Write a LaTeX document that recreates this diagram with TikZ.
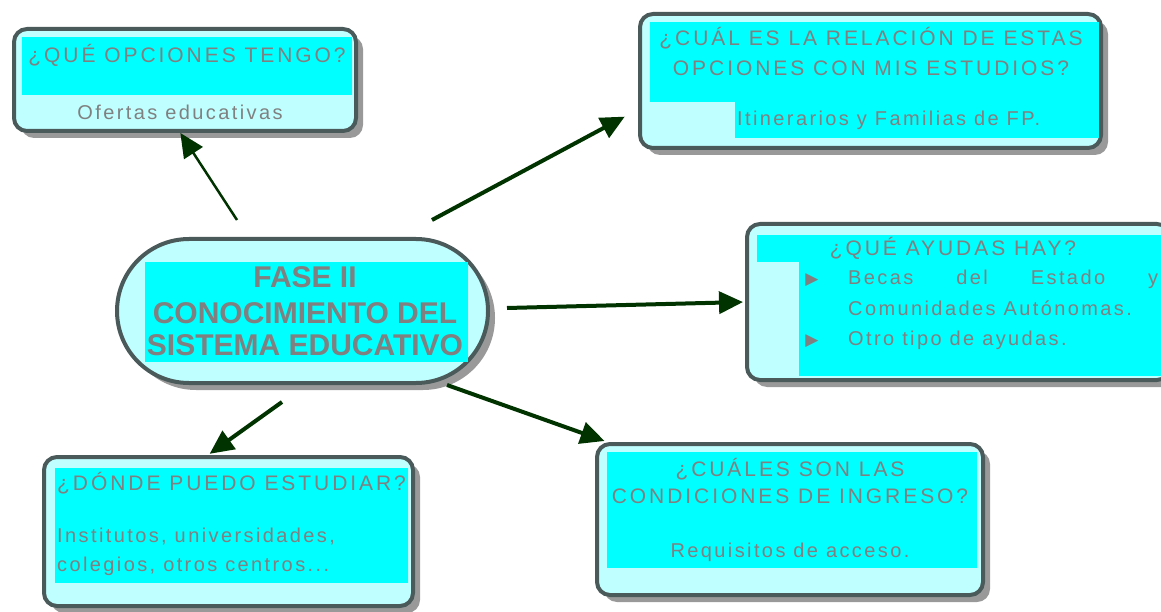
\documentclass[tikz,border=0pt]{standalone}
\usepackage{fontspec}
\setmainfont{Liberation Sans}
\newfontfamily\boxfont[LetterSpace=12]{Liberation Sans}
\newfontfamily\capsfont[LetterSpace=14]{Liberation Sans}
\newfontfamily\symfont{DejaVu Sans}
\usetikzlibrary{arrows.meta,shadows}
\definecolor{lightcyan}{HTML}{C0FFFF}
\definecolor{brightcyan}{HTML}{00FFFF}
\definecolor{edgegray}{HTML}{4A5A5A}
\definecolor{textgray}{HTML}{808080}
\definecolor{arrowgreen}{HTML}{003300}
\begin{document}
\begin{tikzpicture}[x=1pt,y=-1pt]
  \tikzstyle{every node}=[inner sep=0pt,text=textgray]
  \tikzstyle{box}=[draw=edgegray,line width=4pt,fill=lightcyan,rounded corners=13pt,
    general shadow={shadow xshift=7pt,shadow yshift=-7pt,fill=black!40}]
  \tikzstyle{txt}=[font=\boxfont\fontsize{20}{24}\selectfont]
  \tikzstyle{caps}=[font=\capsfont\fontsize{21}{24}\selectfont]
  \tikzstyle{bullet}=[font=\symfont\fontsize{17}{18}\selectfont]
  \tikzstyle{fasetxt}=[font=\bfseries\fontsize{30}{34}\selectfont]
  \tikzstyle{link}=[draw=arrowgreen,line width=4pt,-{Triangle[length=24pt,width=22pt]}]
  \useasboundingbox (0,0) rectangle (1161,612);

  % boxes
  \node[box,minimum width=342pt,minimum height=102pt] (opciones) at (185,80) {};
  \node[box,minimum width=461pt,minimum height=134pt] (relacion) at (870.5,81) {};
  \node[box,minimum width=423pt,minimum height=156pt] (ayudas) at (958.5,302) {};
  \node[box,rounded corners=72pt,minimum width=371pt,minimum height=144pt] (fase) at (302.5,311) {};
  \node[box,minimum width=369pt,minimum height=149pt] (donde) at (228.5,531.5) {};
  \node[box,minimum width=386pt,minimum height=151pt] (condiciones) at (790,519.5) {};

  % cyan fields
  \fill[brightcyan] (22,37) rectangle (352,95);
  \fill[brightcyan] (650,22) rectangle (1099,138);
  \fill[lightcyan] (650,102) rectangle (735,138);
  \fill[brightcyan] (757,235) rectangle (1161,262);
  \fill[brightcyan] (799,262) rectangle (1161,376);
  \fill[brightcyan] (145,262) rectangle (468,362);
  \fill[brightcyan] (55,468) rectangle (408,583);
  \fill[brightcyan] (607,452) rectangle (977,568);

  % texts
  \node[caps] (t11) at (187,55) {¿QUÉ OPCIONES TENGO?};
  \node[txt] (t12) at (180,112) {Ofertas educativas};
  \node[caps] (t21) at (871,38) {¿CUÁL ES LA RELACIÓN DE ESTAS};
  \node[caps] (t22) at (871,68) {OPCIONES CON MIS ESTUDIOS?};
  \node[txt,anchor=west] (t23) at (737,120) {Itinerarios y Familias de FP.};
  \node[caps] (t31) at (953,248) {¿QUÉ AYUDAS HAY?};
  \node[bullet] (b1) at (812,280) {▶};
  \node[txt,anchor=west] (t32) at (848,279) {\makebox[310pt][s]{Becas del Estado y}};
  \node[txt,anchor=west] (t33) at (848,308) {Comunidades Autónomas.};
  \node[bullet] (b2) at (812,341) {▶};
  \node[txt,anchor=west] (t34) at (848,340) {Otro tipo de ayudas.};
  \node[fasetxt] (t41) at (305,277) {FASE II};
  \node[fasetxt] (t42) at (305,313) {CONOCIMIENTO DEL};
  \node[fasetxt] (t43) at (305,345) {SISTEMA EDUCATIVO};
  \node[caps,anchor=west] (t51) at (57,483) {¿DÓNDE PUEDO ESTUDIAR?};
  \node[txt,anchor=west] (t52) at (57,537) {Institutos, universidades,};
  \node[txt,anchor=west] (t53) at (57,566) {colegios, otros centros...};
  \node[caps] (t61) at (790,469) {¿CUÁLES SON LAS};
  \node[caps] (t62) at (790,496) {CONDICIONES DE INGRESO?};
  \node[txt] (t63) at (790,552) {Requisitos de acceso.};

  % arrows
  \coordinate (s1) at (237,220);
  \coordinate (s2) at (432,220);
  \coordinate (s3) at (507,308);
  \coordinate (s4) at (447,385);
  \coordinate (s5) at (282,402);
  \draw[link,line width=2.5pt] (s1) -- (opciones.265);
  \draw[link,shorten >=15pt] (s2) -- (relacion.187);
  \draw[link,shorten >=2pt] (s3) -- (ayudas.west);
  \draw[link,shorten >=3pt] (s4) -- (condiciones.157);
  \draw[link,shorten >=2pt] (s5) -- (donde.105);
\end{tikzpicture}
\end{document}
